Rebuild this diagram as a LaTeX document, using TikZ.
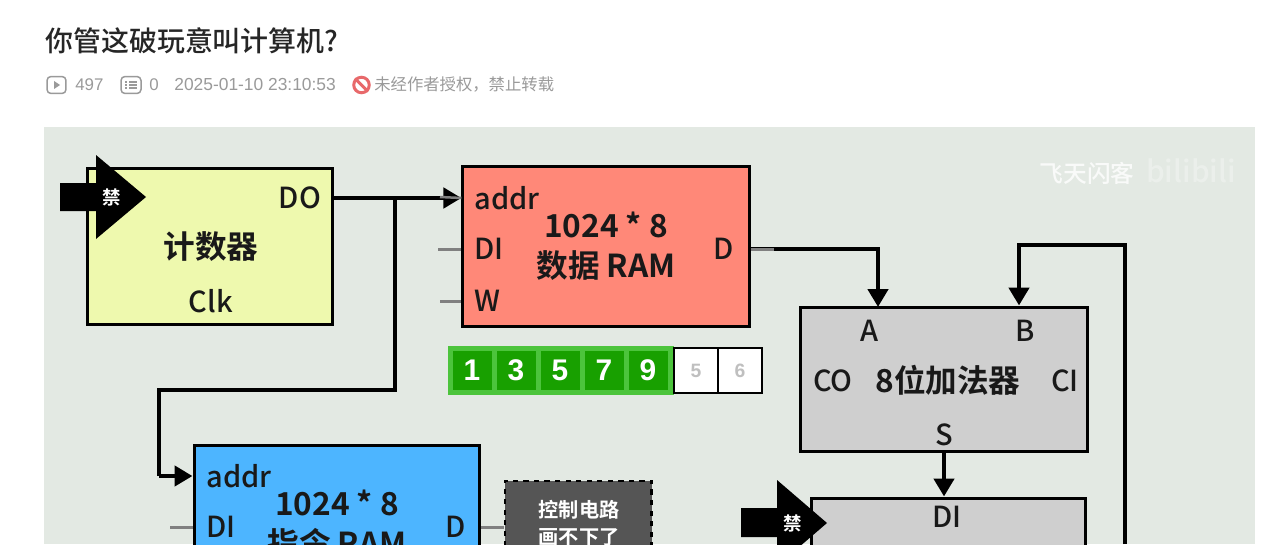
\documentclass[tikz,border=0pt]{standalone}
\usepackage{fontspec}
\setmainfont{Noto Sans CJK SC}[BoldFont={Noto Sans CJK SC Medium}]
\newfontfamily\heavyfont{Noto Sans CJK SC Bold}
\newfontfamily\datefont{Liberation Sans}
\usepackage{xcolor}
\usetikzlibrary{arrows.meta, positioning}
\definecolor{panelbg}{HTML}{E3E9E3}
\definecolor{countbg}{HTML}{EEF9AE}
\definecolor{dramfill}{HTML}{FF8878}
\definecolor{iramfill}{HTML}{4DB5FF}
\definecolor{addbg}{HTML}{CFCFCF}
\definecolor{ctrlbg}{HTML}{555555}
\definecolor{cellon}{HTML}{18A000}
\definecolor{cellrim}{HTML}{4CC43C}
\definecolor{metagray}{HTML}{9A9A9A}
\definecolor{stopred}{HTML}{E8696B}

\begin{document}
\begin{tikzpicture}[x=0.02cm, y=-0.02cm,
    node distance=1cm and 1cm,
    box/.style={draw=black, line width=0.06cm, minimum width=5.74cm, minimum height=3.2cm, inner sep=0pt},
    lbl/.style={inner sep=0pt, font=\fontsize{16.5}{18}\selectfont\bfseries, text=black!90},
    heavylbl/.style={inner sep=0pt, align=center, font=\fontsize{18}{23}\selectfont\heavyfont, text=black!90},
    meta/.style={inner sep=0pt, anchor=west, text=metagray, font=\fontsize{9.3}{11}\selectfont},
    stub/.style={draw=gray, line width=0.06cm},
    wire/.style={draw=black, line width=0.09cm},
    feed/.style={wire, -{Triangle[length=0.36cm, width=0.4cm]}},
    ban/.style={fill=black, draw=none},
    banlbl/.style={inner sep=0pt, text=white, font=\fontsize{10.5}{12}\selectfont\heavyfont},
    cell/.style={fill=cellon, minimum width=0.78cm, minimum height=0.78cm, inner sep=0pt, text=white, font=\fontsize{17}{18}\selectfont\datefont\bfseries},
    blank/.style={draw=black, line width=0.05cm, fill=white, minimum width=0.88cm, minimum height=0.9cm, inner sep=0pt, text=black!25, font=\fontsize{11}{12}\selectfont\datefont\bfseries}
]
    \useasboundingbox (0,0) rectangle (1280,544);
    \clip (0,0) rectangle (1280,544);
    \fill[white] (0,0) rectangle (1280,544);

    % Page header
    \node[inner sep=0pt, anchor=west, font=\fontsize{15.9}{18}\selectfont\bfseries, text=black!85] (title) at (45,41) {你管这破玩意叫计算机?};
    \node[draw=metagray, rounded corners=0.08cm, line width=0.03cm, minimum width=0.38cm, minimum height=0.34cm, inner sep=0pt] (playicon) at (56.5,85) {};
    \fill[metagray] (54,81) -- (60,85) -- (54,89) -- cycle;
    \node[meta, font=\fontsize{9.6}{11}\selectfont\datefont] (plays) at (75,85) {497};
    \node[draw=metagray, rounded corners=0.08cm, line width=0.03cm, minimum width=0.4cm, minimum height=0.34cm, inner sep=0pt] (listicon) at (131,85) {};
    \draw[metagray, line width=0.025cm] (125,82) -- (127,82) (129,82) -- (137,82) (125,85) -- (127,85) (129,85) -- (137,85) (125,88) -- (127,88) (129,88) -- (137,88);
    \node[meta, font=\fontsize{9.6}{11}\selectfont\datefont] (notes) at (149,85) {0};
    \node[meta, font=\fontsize{9.9}{11}\selectfont\datefont] (stamp) at (174,85) {2025-01-10 23:10:53};
    \node[draw=stopred, circle, line width=0.06cm, minimum size=0.31cm, inner sep=0pt] (stopicon) at (361.5,85) {};
    \draw[stopred, line width=0.06cm] (stopicon.north west) -- (stopicon.south east);
    \node[meta] (rights) at (374,85) {未经作者授权，禁止转载};

    % Panel
    \fill[panelbg] (44,127) rectangle (1255,544);
    \node[inner sep=0pt, text=white, opacity=0.8, font=\fontsize{13.5}{14}\selectfont\bfseries] (mark) at (1087,173) {飞天闪客};
    \node[inner sep=0pt, text=white, opacity=0.3, font=\fontsize{17}{18}\selectfont\bfseries] (logo) at (1191,171) {bilibili};

    % Blocks
    \node[box, fill=countbg, minimum width=4.92cm, minimum height=3.14cm] (counter) at (210,246.5) {};
    \node[box, fill=dramfill, right=2.54cm of counter] (dram) {};
    \node[box, fill=addbg, minimum height=2.9cm] (adder) at (944,379.5) {};
    \node[box, fill=iramfill, anchor=north west, minimum width=5.72cm] (iram) at (192.5,443.5) {};
    \node[box, fill=addbg, anchor=north west, minimum width=5.5cm] (reg) at (809.5,496.5) {};
    \node[draw=black, dashed, line width=0.05cm, fill=ctrlbg, minimum width=2.94cm, minimum height=2.4cm, anchor=north west, inner sep=0pt] (ctrl) at (503.5,479.5) {};

    % Labels
    \node[lbl] (cDO) at (300,198) {DO};
    \node[heavylbl] (cName) at (211,247) {计数器};
    \node[lbl] (cClk) at (211,301) {Clk};
    \node[lbl, anchor=west] (dAddr) at (474,198) {addr};
    \node[lbl, anchor=west] (dDI) at (474,249) {DI};
    \node[lbl, anchor=west] (dW) at (474,301) {W};
    \node[lbl] (dD) at (724,249) {D};
    \node[heavylbl] (dName) at (606,246) {1024 * 8\\数据 RAM};
    \node[lbl] (aA) at (870,331) {A};
    \node[lbl] (aB) at (1025,331) {B};
    \node[lbl] (aCO) at (833,381) {CO};
    \node[lbl] (aCI) at (1065,381) {CI};
    \node[heavylbl] (aName) at (948,380) {8位加法器};
    \node[lbl] (aS) at (944,435) {S};
    \node[lbl, anchor=west] (iAddr) at (206,476) {addr};
    \node[lbl, anchor=west] (iDI) at (206,527) {DI};
    \node[lbl] (iD) at (456,527) {D};
    \node[heavylbl] (iName) at (337,524) {1024 * 8\\指令 RAM};
    \node[inner sep=0pt, align=center, text=white, font=\fontsize{11.5}{15.5}\selectfont\heavyfont] (ctrlText) at (579,523) {控制电路\\画不下了};
    \node[lbl] (rDI) at (947,517) {DI};

    % Memory cells
    \node[fill=cellrim, minimum width=4.52cm, minimum height=0.98cm, inner sep=0pt] (rim) at (561,370.5) {};
    \foreach \x/\val in {472/1, 516/3, 560/5, 604/7, 648/9}
        \node[cell] (cell\val) at (\x,370.5) {\val};
    \node[blank] (spare5) at (696,370.5) {5};
    \node[blank] (spare6) at (740,370.5) {6};

    % Enable arrows
    \fill[ban] (60,183) -- (96,183) -- (96,155) -- (146,197) -- (96,239) -- (96,211) -- (60,211) -- cycle;
    \node[banlbl] (banA) at (112,197) {禁};
    \fill[ban] (741,508) -- (777,508) -- (777,480) -- (827,523) -- (777,566) -- (777,537) -- (741,537) -- cycle;
    \node[banlbl] (banB) at (793,523) {禁};

    % Wires
    \coordinate (tap) at (395,197);
    \coordinate (bendR) at (395,390);
    \coordinate (bendL) at (159,390);
    \coordinate (dmid) at (774,249);
    \coordinate (aIn) at (878,307);
    \coordinate (loopEnd) at (1125,544);
    \coordinate (loopTop) at (1125,245);
    \coordinate (loopB) at (1019,245);
    \coordinate (addrStub) at (440,197);
    \coordinate (dDIfree) at (438,249);
    \coordinate (dWfree) at (440,301);
    \coordinate (iDIfree) at (170,527);

    \draw[feed] (cDO -| counter.east) -- (dAddr -| dram.west);
    \draw[stub, line width=0.05cm] (addrStub) -- (dAddr -| dram.west);
    \draw[stub] (dDIfree) -- (dDI -| dram.west);
    \draw[stub] (dWfree) -- (dW -| dram.west);
    \draw[wire, line join=miter] (tap) -- (bendR) -- (bendL) -- (bendL |- iAddr);
    \draw[feed] (bendL |- iAddr) -- (iAddr -| iram.west);
    \draw[stub] (iDIfree) -- (iDI -| iram.west);
    \draw[stub] (iD -| iram.east) -- (iD -| ctrl.west);
    \draw[feed] (dD -| dram.east) -| (aIn);
    \draw[stub] (dD -| dram.east) -- (dmid);
    \draw[feed] (loopEnd) -- (loopTop) -- (loopB) -- (loopB |- adder.north);
    \draw[feed] (aS |- adder.south) -- (aS |- reg.north);
\end{tikzpicture}
\end{document}
